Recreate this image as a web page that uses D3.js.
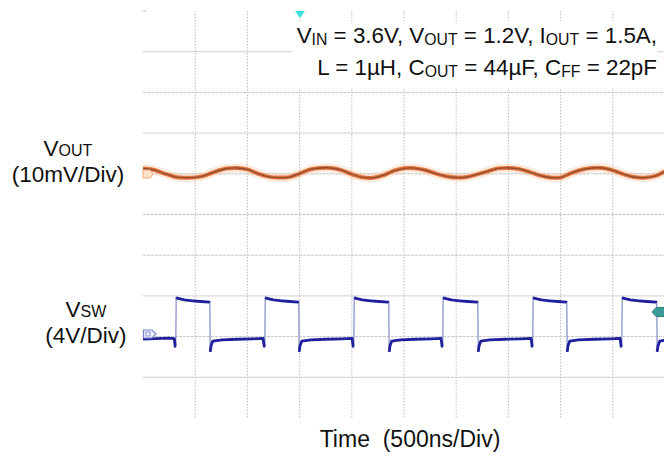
<!DOCTYPE html>
<html>
<head>
<meta charset="utf-8">
<script src="https://cdn.jsdelivr.net/npm/d3@7"></script>
<style>
  html, body { margin: 0; padding: 0; background: #fff; }
  svg { display: block; font-family: "Liberation Sans", Arial, Helvetica, sans-serif; }
</style>
</head>
<body>
<svg id="chart" width="664" height="458"></svg>
<script>
// ---- Data (time in ns, 500 ns/div) ----
const voutTime = [0,100,200,300,400,500,600,700,800,900,1000,1100,1200,1300,1400,1500,1600,1700,1800,1900,2000,2100,2200,2300,2400,2500,2600,2700,2800,2900,3000,3100,3200,3300,3400,3500,3600,3700,3800,3900,4000,4100,4200,4300,4400,4500,4600,4700,4800,4900,5000];
// VOUT ripple, mV (10 mV/div)
const voutMv = [1.30,0.98,0.12,-0.71,-0.96,-0.88,-0.37,0.61,1.30,1.43,1.08,0.05,-0.69,-0.93,-0.81,0.05,1.06,1.43,1.43,0.91,-0.10,-0.84,-0.98,-0.39,0.71,1.35,1.38,0.93,0.10,-0.59,-0.91,-0.79,-0.15,0.61,1.33,1.43,1.20,0.49,-0.39,-0.91,-0.91,0.15,1.01,1.43,1.43,0.86,-0.07,-0.79,-0.96,-0.59,0.57];

// VSW switch node, V (4 V/div)
const swTime = [0,120,250,300,308,314,
  318,335,396,476,556,636,640,
  644,652,668,760,900,1050,1150,1161,1167,
  1171,1188,1249,1329,1409,1488,1492,
  1496,1504,1520,1610,1750,1900,2003,2013,2019,
  2023,2040,2101,2181,2261,2350,2354,
  2358,2366,2382,2470,2610,2760,2855,2865,2871,
  2875,2892,2953,3033,3113,3203,3207,
  3211,3219,3235,3320,3470,3620,3717,3727,3733,
  3737,3754,3815,3895,3975,4055,4059,
  4063,4071,4087,4170,4320,4470,4570,4580,4586,
  4590,4607,4668,4748,4828,4917,4921,
  4925,4933,4949,5000];
const swVolt = [-0.25,-0.2,-0.15,-0.2,-0.95,-0.9,
  3.85,3.75,3.6,3.52,3.45,3.38,3.35,
  -1.5,-0.9,-0.45,-0.32,-0.26,-0.22,-0.18,-0.95,-0.9,
  3.85,3.75,3.6,3.52,3.45,3.38,3.35,
  -1.5,-0.9,-0.45,-0.32,-0.26,-0.22,-0.18,-0.95,-0.9,
  3.85,3.75,3.6,3.52,3.45,3.38,3.35,
  -1.5,-0.9,-0.45,-0.32,-0.26,-0.22,-0.18,-0.95,-0.9,
  3.85,3.75,3.6,3.52,3.45,3.38,3.35,
  -1.5,-0.9,-0.45,-0.32,-0.26,-0.22,-0.18,-0.95,-0.9,
  3.85,3.75,3.6,3.52,3.45,3.38,3.35,
  -1.5,-0.9,-0.45,-0.32,-0.26,-0.22,-0.18,-0.95,-0.9,
  3.85,3.75,3.6,3.52,3.45,3.38,3.35,
  -1.5,-0.9,-0.45,-0.35];

const xDivs = [0,1,2,3,4,5,6,7,8,9,10];
const yDivs = [0,1,2,3,4,5,6,7,8,9,10];

// ---- Scales ----
const svg = d3.select("#chart");
const x = d3.scaleLinear().domain([0, 5000]).range([143, 665]);
const yOut = d3.scaleLinear().domain([40, -60]).range([11, 418]);   // 10 mV/div
const ySw = d3.scaleLinear().domain([32, -8]).range([11, 418]);     // 4 V/div
const div = d3.scaleLinear().domain([0, 10]).range([11, 418]);

// ---- Grid ----
const grid = svg.append("g");
grid.selectAll("line.v").data(xDivs.slice(1, 10)).enter().append("line")
  .attr("x1", d => x(d * 500)).attr("x2", d => x(d * 500))
  .attr("y1", div(0)).attr("y2", div(10))
  .attr("stroke", "#c6c6c6").attr("stroke-width", 1.2).attr("stroke-dasharray", "1.5,1.5");
grid.selectAll("line.h").data(yDivs.slice(1, 10)).enter().append("line")
  .attr("x1", 143).attr("x2", 664)
  .attr("y1", d => div(d)).attr("y2", d => div(d))
  .attr("stroke", "#c4c4c4").attr("stroke-width", 1).attr("stroke-dasharray", "3,1");
grid.append("line").attr("x1", 143).attr("x2", 146).attr("y1", 11).attr("y2", 11).attr("stroke", "#bbb");

// ---- Title box ----
svg.append("rect").attr("x", 292).attr("y", 21).attr("width", 365).attr("height", 67).attr("fill", "#fff");
function addLine(parts, y) {
  const t = svg.append("text").attr("x", 657).attr("y", y).attr("font-size", 22.4)
    .attr("fill", "#111").attr("text-anchor", "end");
  parts.forEach(p => {
    const ts = t.append("tspan").text(p[0]);
    if (p[1]) ts.attr("font-size", 15.8).attr("dy", 2);
    else if (p[2]) ts.attr("dy", -2);
  });
}
addLine([["V"],["IN",1],[" = 3.6V, V",0,1],["OUT",1],[" = 1.2V, I",0,1],["OUT",1],[" = 1.5A,",0,1]], 43);
addLine([["L = 1\u00b5H, C"],["OUT",1],[" = 44\u00b5F, C",0,1],["FF",1],[" = 22pF",0,1]], 75);

// ---- Left labels ----
function label(cx, y1, main, sub, y2, scale) {
  const t = svg.append("text").attr("x", cx).attr("y", y1).attr("font-size", 22.5)
    .attr("fill", "#111").attr("text-anchor", "middle");
  t.append("tspan").text(main);
  t.append("tspan").text(sub).attr("font-size", 16).attr("dy", 0.5);
  svg.append("text").attr("x", cx).attr("y", y2).attr("font-size", 22.5)
    .attr("fill", "#111").attr("text-anchor", "middle").text(scale);
}
label(68, 155.5, "V", "OUT", 182, "(10mV/Div)");
label(86, 316.5, "V", "SW", 343, "(4V/Div)");

// ---- X label ----
svg.append("text").attr("x", 410).attr("y", 447).attr("font-size", 23).attr("fill", "#111")
  .attr("text-anchor", "middle").style("white-space", "pre").text("Time  (500ns/Div)");

// ---- VOUT trace ----
const voutData = voutTime.map((t, i) => [t, voutMv[i]]);
const lineOut = d3.line().x(d => x(d[0])).y(d => yOut(d[1])).curve(d3.curveCatmullRom);
svg.append("path").datum(voutData).attr("d", lineOut).attr("fill", "none")
  .attr("stroke", "#f6b080").attr("stroke-width", 9).attr("stroke-opacity", 0.25);
svg.append("path").datum(voutData).attr("d", lineOut).attr("fill", "none")
  .attr("stroke", "#e4733a").attr("stroke-width", 4).attr("stroke-linejoin", "round");
svg.append("path").datum(voutData).attr("d", lineOut).attr("fill", "none")
  .attr("stroke", "#7e4634").attr("stroke-width", 1.3).attr("stroke-opacity", 0.85);

// ---- VSW trace ----
const swData = swTime.map((t, i) => [t, swVolt[i]]);
const lineSw = d3.line().x(d => x(d[0])).y(d => ySw(d[1]));
svg.append("path").datum(swData).attr("d", lineSw).attr("fill", "none")
  .attr("stroke", "#8a94cc").attr("stroke-width", 1.3);
// dark level runs (split at big transitions)
const runs = [];
let cur = [swData[0]];
for (let i = 1; i < swData.length; i++) {
  if (Math.abs(swData[i][1] - swData[i - 1][1]) > 3) { runs.push(cur); cur = []; }
  cur.push(swData[i]);
}
runs.push(cur);
svg.selectAll("path.run").data(runs).enter().append("path")
  .attr("d", lineSw).attr("fill", "none")
  .attr("stroke", "#20209c").attr("stroke-width", 2.8).attr("stroke-linejoin", "round");

// ---- Markers ----
svg.append("path").attr("d", "M143,170 L150,170 L153,174 L150,178 L143,178 Z")
  .attr("fill", "#fde3cc").attr("stroke", "#f2a878").attr("stroke-width", 1);
svg.append("path").attr("d", "M143.5,330 L152,330 L156,334 L152,338 L143.5,338 Z")
  .attr("fill", "#eef0ff").attr("stroke", "#7884c8").attr("stroke-width", 1.2);
svg.append("rect").attr("x", 146).attr("y", 332).attr("width", 4).attr("height", 4)
  .attr("fill", "none").attr("stroke", "#7884c8").attr("stroke-width", 0.8);
svg.append("path").attr("d", "M652,312 L656,307.5 L665,307.5 L665,316.5 L656,316.5 Z")
  .attr("fill", "#3a9c94").attr("stroke", "#2c7f78").attr("stroke-width", 1);
svg.append("path").attr("d", "M295,11 L305,11 L300,18 Z").attr("fill", "#3fe0e0");
</script>
</body>
</html>
